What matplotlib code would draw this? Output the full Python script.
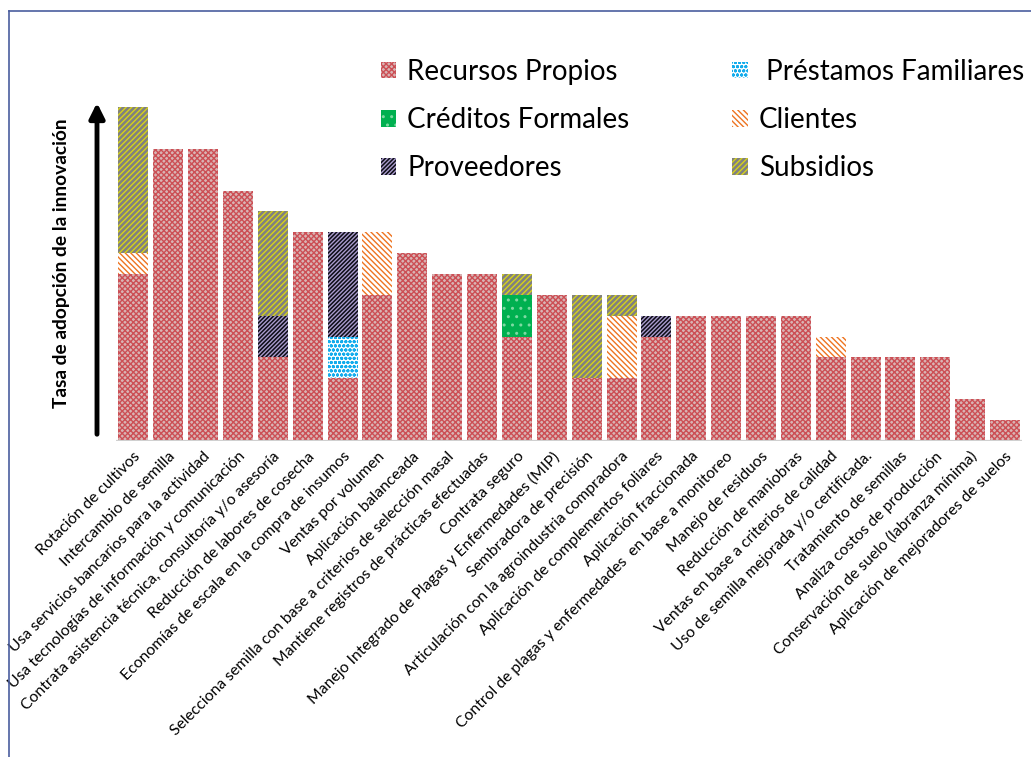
import numpy as np
import matplotlib
matplotlib.use("Agg")
from matplotlib import pyplot as plt
from matplotlib.lines import Line2D

plt.rcParams['font.family'] = ['Lato', 'DejaVu Sans']
plt.rcParams['hatch.linewidth'] = 1.0

# innovation practices, ordered by adoption
practicas = [
  "Rotación de cultivos",
  "Intercambio de semilla",
  "Usa servicios bancarios para la actividad",
  "Usa tecnologías de información y comunicación",
  "Contrata asistencia técnica, consultoría y/o asesoría",
  "Reducción de labores de cosecha",
  "Economías de escala en la compra de insumos",
  "Ventas por volumen",
  "Aplicación balanceada",
  "Selecciona semilla con base a criterios de selección masal",
  "Mantiene registros de prácticas efectuadas",
  "Contrata seguro",
  "Manejo Integrado de Plagas y Enfermedades (MIP)",
  "Sembradora de precisión",
  "Articulación con la agroindustria compradora",
  "Aplicación de complementos foliares",
  "Aplicación fraccionada",
  "Control de plagas y enfermedades  en base a monitoreo",
  "Manejo de residuos",
  "Reducción de maniobras",
  "Ventas en base a criterios de calidad",
  "Uso de semilla mejorada y/o certificada.",
  "Tratamiento de semillas",
  "Analiza costos de producción",
  "Conservación de suelo (labranza mínima)",
  "Aplicación de mejoradores de suelos",
]

# funding source counts per practice (stacked bottom -> top)
recursos_propios = [8, 14, 14, 12, 4, 10, 3, 7, 9, 8, 8, 5, 7, 3, 3, 5, 6, 6, 6, 6, 4, 4, 4, 4, 2, 1]
prestamos_familiares = [0, 0, 0, 0, 0, 0, 2, 0, 0, 0, 0, 0, 0, 0, 0, 0, 0, 0, 0, 0, 0, 0, 0, 0, 0, 0]
creditos_formales = [0, 0, 0, 0, 0, 0, 0, 0, 0, 0, 0, 2, 0, 0, 0, 0, 0, 0, 0, 0, 0, 0, 0, 0, 0, 0]
clientes = [1, 0, 0, 0, 0, 0, 0, 3, 0, 0, 0, 0, 0, 0, 3, 0, 0, 0, 0, 0, 1, 0, 0, 0, 0, 0]
proveedores = [0, 0, 0, 0, 2, 0, 5, 0, 0, 0, 0, 0, 0, 0, 0, 1, 0, 0, 0, 0, 0, 0, 0, 0, 0, 0]
subsidios = [7, 0, 0, 0, 5, 0, 0, 0, 0, 0, 0, 1, 0, 4, 1, 0, 0, 0, 0, 0, 0, 0, 0, 0, 0, 0]

# (name, values, face, hatch colour, hatch)
series = [
  ("Recursos Propios", recursos_propios, "#d9b4b4", "#cc4f55", "xxxxxx"),
  (" Préstamos Familiares", prestamos_familiares, "#ffffff", "#13acec", "oooo"),
  ("Créditos Formales", creditos_formales, "#00b050", "#7ddaa2", ".."),
  ("Clientes", clientes, "#ffffff", "#ee7420", "\\\\\\\\\\\\"),
  ("Proveedores", proveedores, "#0d0d16", "#a99bcc", "////////"),
  ("Subsidios", subsidios, "#808080", "#d6d21a", "//////"),
]

W, H = 1031, 757
fig = plt.figure(figsize=(W / 100, H / 100), dpi=100)
ax = fig.add_axes([116 / W, 1 - 441 / H, (1022.5 - 116) / W, 334 / H])

x = np.arange(len(practicas))
bottom = np.zeros(len(practicas))
handles = {}
for name, vals, face, hcol, hatch in series:
  vals = np.array(vals, dtype=float)
  bars = ax.bar(x, vals, width=0.86, bottom=bottom, color=face,
                edgecolor=hcol, linewidth=0, hatch=hatch)
  handles[name] = bars
  bottom += vals

ax.set_xlim(-0.5, len(practicas) - 0.5)
ax.set_ylim(0, 16)
ax.axhline(0, color="#d0d0d0", lw=1.6, zorder=5)
for s in ax.spines.values():
  s.set_visible(False)
ax.set_yticks([])
ax.set_xticks(x)
ax.set_xticklabels(practicas, rotation=45, ha="right", rotation_mode="anchor",
                   fontsize=11.3)
ax.tick_params(axis="x", length=0, pad=6)

# legend laid out in two columns
order = ["Recursos Propios", "Créditos Formales", "Proveedores",
         " Préstamos Familiares", "Clientes", "Subsidios"]
fig.legend([handles[k] for k in order], order, loc="upper left",
           bbox_to_anchor=(367 / W, 1 - 45 / H), ncol=2, frameon=False,
           fontsize=20, handlelength=0.55, handleheight=0.55,
           handletextpad=0.4, labelspacing=0.8, columnspacing=3.7,
           borderpad=0)

# y axis: arrow plus bold caption
ax_arrow = fig.add_axes([0, 0, 1, 1], facecolor="none")
ax_arrow.set_xlim(0, W)
ax_arrow.set_ylim(H, 0)
ax_arrow.axis("off")
ax_arrow.annotate("", xy=(97, 100), xytext=(97, 437),
                  arrowprops=dict(arrowstyle="-|>,head_width=0.45,head_length=0.9",
                                  color="black", lw=3.5))
ax_arrow.text(62, 263, "Tasa de adopción de la innovación", rotation=90,
              ha="center", va="center", fontsize=13.8, fontweight="bold")

# thin frame on the top and left edges
ax_arrow.add_line(Line2D([9, W], [11, 11], color="#4a5d9e", lw=1.2))
ax_arrow.add_line(Line2D([9, 9], [11, H], color="#4a5d9e", lw=1.2))

fig.savefig("out.png", dpi=100)
